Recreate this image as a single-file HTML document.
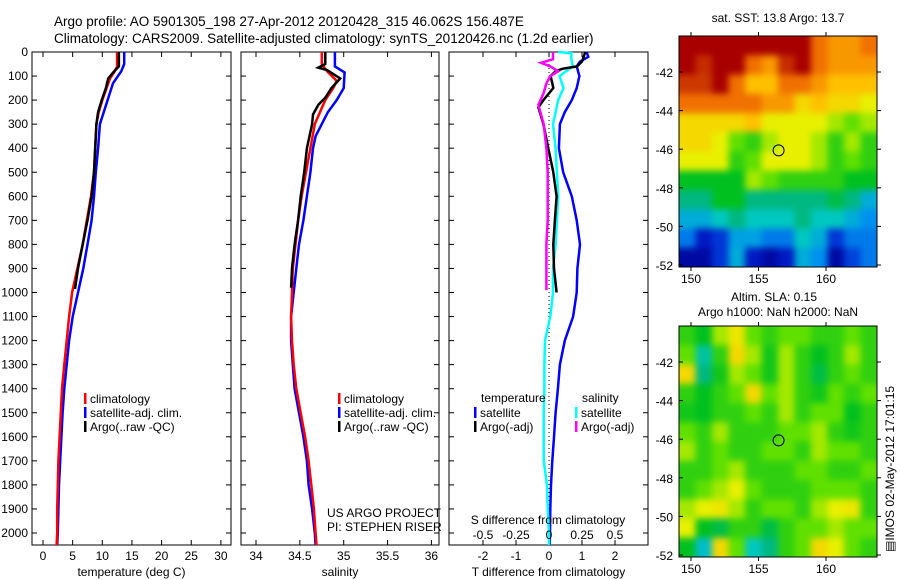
<!DOCTYPE html>
<html><head><meta charset="utf-8"><style>
html,body{margin:0;padding:0;background:#fff}
svg{display:block;font-family:"Liberation Sans",sans-serif}
</style></head><body>
<svg id="fig" width="900" height="580" viewBox="0 0 900 580" xmlns="http://www.w3.org/2000/svg">
<defs>
<filter id="smooth" filterUnits="userSpaceOnUse" x="679" y="0" width="199" height="580" color-interpolation-filters="sRGB">
<feGaussianBlur stdDeviation="3.5"/>
<feComponentTransfer><feFuncA type="linear" slope="0" intercept="1"/></feComponentTransfer>
</filter>
<clipPath id="clipA"><rect x="679" y="36" width="198" height="231"/></clipPath>
<clipPath id="clipB"><rect x="679" y="326" width="198" height="231"/></clipPath>
</defs>
<rect width="900" height="580" fill="#fff"/>
<text x="54" y="26" font-size="13.5">Argo profile: AO 5901305_198 27-Apr-2012 20120428_315 46.062S 156.487E</text>
<text x="54" y="43" font-size="13.5">Climatology: CARS2009. Satellite-adjusted climatology: synTS_20120426.nc (1.2d earlier)</text>
<g id="g"></g>
</svg>
<script>
// ---------- data ----------
const tDepthRed=[0,60,80,110,200,250,300,500,600,800,1000,1100,1200,1300,1400,1500,1600,1700,1800,1900,2000,2050];
const tRed=[12.5,12.5,12.1,11.3,10.0,9.4,9.0,8.6,8.1,6.7,4.9,4.4,4.0,3.6,3.2,3.0,2.8,2.6,2.5,2.4,2.4,2.3];
const tDepthBlue=[0,50,80,130,200,300,400,500,600,700,800,900,1000,1100,1200,1300,1400,1500,1600,1700,1800,1900,2000,2050];
const tBlue=[13.7,13.7,13.2,11.8,10.9,9.6,9.3,8.9,8.6,8.2,7.5,6.8,5.9,5.0,4.4,4.0,3.6,3.3,3.1,2.9,2.7,2.6,2.5,2.4];
const tDepthArgo=[0,60,80,110,150,200,250,300,400,500,600,700,800,900,985];
const tArgo=[12.8,12.8,12.0,11.0,10.6,9.9,9.3,9.0,8.8,8.6,8.2,7.5,6.7,5.9,5.4];

const sDepthRed=[0,50,80,120,150,200,250,300,400,500,600,700,800,900,1000,1100,1200,1300,1400,1500,1600,1700,1800,1900,2000,2050];
const sRed=[34.75,34.75,34.81,34.92,34.88,34.79,34.73,34.67,34.62,34.57,34.52,34.48,34.45,34.42,34.41,34.40,34.41,34.43,34.46,34.51,34.56,34.60,34.63,34.66,34.68,34.69];
const sDepthBlue=[0,60,85,150,200,250,300,350,400,500,600,700,800,900,1000,1100,1200,1300,1400,1500,1600,1700,1800,1900,2000,2050];
const sBlue=[34.90,34.90,35.01,35.00,34.92,34.82,34.75,34.68,34.65,34.62,34.58,34.54,34.49,34.46,34.43,34.40,34.40,34.42,34.44,34.49,34.54,34.58,34.60,34.64,34.67,34.68];
const sDepthArgo=[0,50,65,75,110,150,190,220,260,300,400,500,600,700,800,900,980];
const sArgo=[34.79,34.79,34.71,34.81,34.96,34.86,34.79,34.71,34.65,34.64,34.58,34.55,34.51,34.48,34.44,34.41,34.40];

const dDepthTsat=[0,20,40,60,100,150,200,250,300,400,500,600,700,800,900,1000,1100,1200,1300,1400,1500,1600,1700,1800,1900,2000,2050];
const dTsat=[1.14,1.19,0.94,0.84,0.92,0.84,0.69,0.48,0.33,0.30,0.43,0.69,0.84,0.94,0.86,0.84,0.73,0.48,0.33,0.27,0.20,0.15,0.10,0.06,0.04,0.03,0.02];
const dDepthTargo=[0,40,60,70,80,100,130,150,200,230,300,400,500,600,700,800,900,1000];
const dTargo=[1.1,1.0,0.85,0.4,0.2,0.05,0.1,0.13,-0.17,-0.32,-0.17,-0.02,0.13,0.23,0.18,0.13,0.15,0.23];
const dDepthSsat=[0,5,30,60,80,100,150,200,250,300,400,500,600,700,800,900,1000,1100,1200,1300,1400,1500,1600,1700,1800,1900,2000,2050];
const dSsat=[0.07,0.17,0.17,0.18,0.13,0.08,0.11,0.07,0.05,0.03,0.05,0.06,0.07,0.06,0.05,0.03,0.03,0.01,-0.03,-0.035,-0.035,-0.04,-0.04,-0.04,-0.015,-0.01,0,0];
const dDepthSargo=[0,30,45,60,80,100,130,170,220,300,400,500,600,700,800,900,990];
const dSargo=[0.03,0.03,-0.06,0.01,0.07,0.01,-0.02,-0.04,-0.08,-0.04,-0.02,-0.01,-0.01,-0.01,-0.02,-0.02,-0.02];

const depthTicks=[0,100,200,300,400,500,600,700,800,900,1000,1100,1200,1300,1400,1500,1600,1700,1800,1900,2000];
const tempTicks=[0,5,10,15,20,25,30];
const salTicks=[34,34.5,35,35.5,36];
const salTickLabels=["34","34.5","35","35.5","36"];
const tdiffTicks=[-2,-1,0,1,2];
const sdiffTicks=[-0.5,-0.25,0,0.25,0.5];
const sdiffLabels=["-0.5","-0.25","0","0.25","0.5"];
const latTicks=[-42,-44,-46,-48,-50,-52];
const lonTicks=[150,155,160];

const sstGrid=[
[9,9,9,9,9,9,9,9,8,7.5,7.5,8],
[9,8.6,9,9,8,7.5,8.6,9,8,7.5,7.5,7.5],
[8.5,8.5,9,8,7,7,8,8,7.5,7,7,7],
[8,8,8,8,8,7.5,7.5,6.5,7,6.5,6.5,6],
[6.5,6.5,6.5,6.5,7,6,6,6,6,5.5,5,5.5],
[6.5,6.5,6,5,4.5,5.5,6,6,5.5,4.5,5.5,4.5],
[6,6,6,4.5,5,6,6,6,5.5,4.5,5,4.5],
[4,4,4,4,5.5,5,4.5,4.5,4.5,4.5,4,4],
[3.5,3.5,4,4,3.5,3.5,3.5,3.5,3.5,3.8,3.5,2.5],
[2.5,2.5,3,3.5,3,3,3,3.5,3,3,2.5,2],
[1.8,0.8,1.2,2.3,2.3,1.8,1.8,3,2.5,1.2,1.8,1.8],
[0.3,0.3,1.2,2.5,0.8,0.3,0.8,2.5,2,0.3,1.3,1.8]];
const slaGrid=[
[4.5,4,5.5,6.2,5,4.5,5,5,4.5,4.5,5,4.5],
[5,3.2,4.5,6.5,5.5,4.2,5.5,4.5,4,4.5,5.5,4.5],
[6.5,3.5,4.2,5.5,5,4.2,5.5,4.5,3.8,4.5,5,4.5],
[4.5,4,4.5,5,6.5,5,5.5,4.5,4.2,5,4.5,5],
[4.2,4,4.5,4.5,5,4.5,5.5,4.5,5,5,4,4.5],
[5,4.5,5.5,4.5,4.5,4.5,5,5,5.5,4.5,4.2,4.5],
[5.5,4.5,5,4.5,4.5,5,5,4.5,5.5,5,5,4.5],
[4.5,4.5,5,5.5,4.5,4.5,4.5,5,5,4.5,4.5,5],
[4.5,5,5.5,6,5,4.5,4.5,4.5,5,5,5,4.5],
[5.5,6,6.2,5.5,4.5,5,5,4.5,5.5,6,6.2,4.5],
[6,4,3.8,4.5,4.5,3.8,4.5,5,5,5.5,5,5],
[4,2.8,6.5,5,3,3.5,4.5,5,6.5,6,5,4.5]];

// ---------- helpers ----------
const NS="http://www.w3.org/2000/svg";
const G=document.getElementById('g');
function mk(tag,attrs,parent,txt){const e=document.createElementNS(NS,tag);for(const k in attrs)e.setAttribute(k,attrs[k]);if(txt!==undefined)e.textContent=txt;(parent||G).appendChild(e);return e;}
const yD=d=>52+d*0.2405;
const xT=t=>43+t*5.93;
const xS=s=>256+(s-34)*87.7;
const xTd=t=>549+t*33;
const xSd=s=>549+s*132;
const TOP=52,BOT=545;

function panel(x0,x1,name,xticks,xfun,labels,xlabel){
  const r=mk('rect',{x:x0,y:TOP,width:x1-x0,height:BOT-TOP,fill:'none',stroke:'#000','stroke-width':1});
  
  
  depthTicks.forEach(d=>{
    const y=yD(d);
    const t1=mk('line',{x1:x0,x2:x0+5,y1:y,y2:y,stroke:'#000'});
    
    
    const t2=mk('line',{x1:x1-5,x2:x1,y1:y,y2:y,stroke:'#000'});
    
    
  });
  xticks.forEach((v,i)=>{
    const x=xfun(v);
    const a=mk('line',{x1:x,x2:x,y1:TOP,y2:TOP+5,stroke:'#000'});
    
    
    const b=mk('line',{x1:x,x2:x,y1:BOT-5,y2:BOT,stroke:'#000'});
    
    
    if(labels){
      const l=mk('text',{x:x,y:560,'font-size':12,'text-anchor':'middle'},G,labels[i]);
      
      
    }
  });
  const xl=mk('text',{x:(x0+x1)/2,y:576,'font-size':12,'text-anchor':'middle'},G,xlabel);
  
  
}
function line(depths,vals,xf,color,name,w){
  const pts=depths.map((d,i)=>xf(vals[i]).toFixed(1)+','+yD(d).toFixed(1)).join(' ');
  const p=mk('polyline',{points:pts,fill:'none',stroke:color,'stroke-width':w||2.5,'stroke-linejoin':'miter'});
  
  
}
function legend(x,y,color,label,name){
  const b=mk('rect',{x:x,y:y-10,width:2.5,height:11,fill:color});
  
  
  const t=mk('text',{x:x+6,y:y,'font-size':12},G,label);
  
  
}
function txt(x,y,s,name,anchor,size){
  const t=mk('text',{x:x,y:y,'font-size':size||12,'text-anchor':anchor||'start'},G,s);
  
  
  return t;
}

depthTicks.forEach(d=>{
  const t=mk('text',{x:28,y:yD(d)+4,'font-size':12,'text-anchor':'end'},G,String(d));
  
  
});

panel(32,231,'temperature-panel',tempTicks,xT,tempTicks.map(String),'temperature (deg C)');
line(tDepthBlue,tBlue,xT,'#0000ff','temp-satellite-line');
line(tDepthRed,tRed,xT,'#ff0000','temp-climatology-line');
line(tDepthArgo,tArgo,xT,'#000000','temp-argo-line');
legend(84,403,'#ff0000','climatology','legend-temp-climatology');
legend(84,417,'#0000ff','satellite-adj. clim.','legend-temp-satellite');
legend(84,431,'#000000','Argo(..raw -QC)','legend-temp-argo');

panel(241,439,'salinity-panel',salTicks,xS,salTickLabels,'salinity');
line(sDepthBlue,sBlue,xS,'#0000ff','sal-satellite-line');
line(sDepthRed,sRed,xS,'#ff0000','sal-climatology-line');
line(sDepthArgo,sArgo,xS,'#000000','sal-argo-line');
legend(338,403,'#ff0000','climatology','legend-sal-climatology');
legend(338,417,'#0000ff','satellite-adj. clim.','legend-sal-satellite');
legend(338,431,'#000000','Argo(..raw -QC)','legend-sal-argo');
txt(327,517,'US ARGO PROJECT','project-label');
txt(327,531,'PI: STEPHEN RISER','pi-label');

panel(449,648,'difference-panel',tdiffTicks,xTd,tdiffTicks.map(String),'T difference from climatology');
const z=mk('line',{x1:549,x2:549,y1:TOP,y2:BOT,stroke:'#000','stroke-dasharray':'1,3'});


line(dDepthTsat,dTsat,xTd,'#0000ff','tdiff-satellite-line');
line(dDepthSsat,dSsat,xSd,'#00ffff','sdiff-satellite-line');
line(dDepthTargo,dTargo,xTd,'#000000','tdiff-argo-line');
line(dDepthSargo,dSargo,xSd,'#ff00ff','sdiff-argo-line');
txt(481,402,'temperature','legend-temperature-heading');
txt(582,402,'salinity','legend-salinity-heading');
legend(474,417,'#0000ff','satellite','legend-tdiff-satellite');
legend(474,431,'#000000','Argo(-adj)','legend-tdiff-argo');
legend(575,417,'#00ffff','satellite','legend-sdiff-satellite');
legend(575,431,'#ff00ff','Argo(-adj)','legend-sdiff-argo');
txt(548,524,'S difference from climatology','sdiff-axis-title','middle');
sdiffTicks.forEach((v,i)=>{
  const t=mk('text',{x:xSd(v),y:539,'font-size':12,'text-anchor':'middle'},G,sdiffLabels[i]);
  
  
});

// ---------- maps ----------
const stops=[[0,[0,0,144]],[1,[0,32,208]],[2,[0,144,240]],[3,[0,200,192]],[3.5,[0,184,128]],[4,[0,192,32]],[5,[96,224,0]],[6,[232,240,0]],[7,[255,192,0]],[8,[240,112,0]],[9,[168,0,0]]];
function cmap(v){
  for(let i=0;i<stops.length-1;i++){
    const [a,ca]=stops[i],[b,cb]=stops[i+1];
    if(v<=b){const f=Math.max(0,(v-a)/(b-a));return 'rgb('+ca.map((c,k)=>Math.round(c+(cb[k]-c)*f)).join(',')+')';}
  }
  return 'rgb(168,0,0)';
}
const MX0=679,MX1=877;
const lonX=l=>691+(l-150)*13.5;
function map(grid,top,bot,name,latY,clipId){
  const outer=mk('g',{'clip-path':'url(#'+clipId+')'});
  
  
  const g=mk('g',{filter:'url(#smooth)'},outer);
  
  
  const rows=grid.length,cols=grid[0].length,cw=(MX1-MX0)/cols,ch=(bot-top)/rows;
  grid.forEach((row,r)=>row.forEach((v,c)=>{
    const cell=mk('rect',{x:(MX0+c*cw).toFixed(2),y:(top+r*ch).toFixed(2),width:(cw+0.6).toFixed(2),height:(ch+0.6).toFixed(2),fill:cmap(v)},g);
    
    
  }));
  const f=mk('rect',{x:MX0,y:top,width:MX1-MX0,height:bot-top,fill:'none',stroke:'#000'});
  
  
  latTicks.forEach(l=>{
    const y=latY(l);
    const a=mk('line',{x1:MX0,x2:MX0+4,y1:y,y2:y,stroke:'#000'});
    
    
    const b=mk('line',{x1:MX1,x2:MX1+4,y1:y,y2:y,stroke:'#000'});
    
    
    const t=mk('text',{x:673,y:y+5,'font-size':12,'text-anchor':'end'},G,String(l));
    
    
  });
  lonTicks.forEach(l=>{
    const x=lonX(l);
    const a=mk('line',{x1:x,x2:x,y1:top-4,y2:top,stroke:'#000'});
    
    
    const b=mk('line',{x1:x,x2:x,y1:bot,y2:bot+4,stroke:'#000'});
    
    
    const t=mk('text',{x:x,y:bot+16,'font-size':12,'text-anchor':'middle'},G,String(l));
    
    
  });
  const c=mk('circle',{cx:lonX(156.487),cy:latY(-46.062),r:5.5,fill:'none',stroke:'#000','stroke-width':1});
  
  
}
map(sstGrid,36,267,'sst-map',l=>72+(-42-l)*19.3,'clipA');
txt(778,22,'sat. SST: 13.8  Argo: 13.7','sst-map-title','middle');
map(slaGrid,326,557,'sla-map',l=>362+(-42-l)*19.3,'clipB');
txt(774,301,'Altim. SLA: 0.15','sla-map-title','middle');
txt(778,316,'Argo h1000: NaN h2000: NaN','sla-map-subtitle','middle');
const v=txt(0,0,'\u25A4IMOS 02-May-2012 17:01:15','timestamp-label');
v.setAttribute('transform','translate(894,552) rotate(-90)');
</script>
</body></html>
